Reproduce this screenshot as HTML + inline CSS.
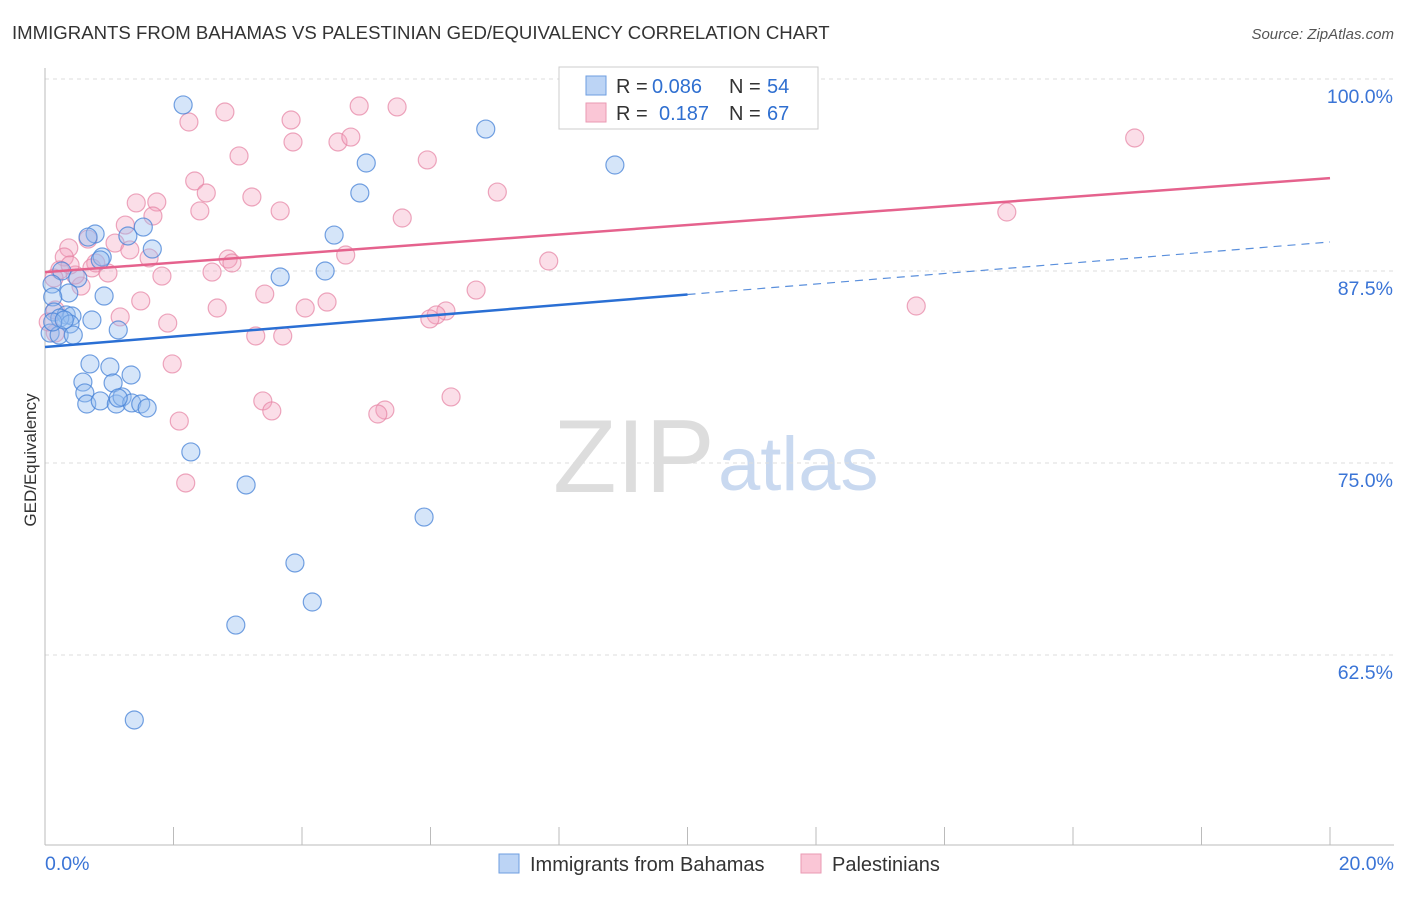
<!DOCTYPE html>
<html><head><meta charset="utf-8"><style>
body{margin:0;background:#fff;font-family:"Liberation Sans",sans-serif}
svg text{font-family:"Liberation Sans",sans-serif}
</style></head><body>
<svg id="chart" width="1406" height="892">
<text x="12" y="39" font-size="18.6" fill="#333">IMMIGRANTS FROM BAHAMAS VS PALESTINIAN GED/EQUIVALENCY CORRELATION CHART</text>
<text x="1394" y="39" font-size="15" fill="#555" font-style="italic" text-anchor="end">Source: ZipAtlas.com</text>
<text x="36" y="460" font-size="17" fill="#333" transform="rotate(-90 36 460)" text-anchor="middle">GED/Equivalency</text>
<g>
<text x="553" y="492" font-size="104" fill="#ddd" font-family="Liberation Serif,serif">ZIP</text>
<text x="718" y="490" font-size="76" fill="#c9d9f0">atlas</text>
</g>
<g id="grid"></g><g id="axes"></g><g id="pts"></g><g id="lines"></g>
<g>
<rect x="559" y="67" width="259" height="62" fill="#fff" stroke="#ccc"/>
<rect x="586" y="76" width="20" height="19" fill="#bcd4f5" stroke="#6e9ee0"/>
<rect x="586" y="103" width="20" height="19" fill="#fac6d6" stroke="#ea9ab3"/>
<g font-size="20">
<text x="616" y="93" fill="#333">R =</text><text x="652" y="93" fill="#2f6fd0">0.086</text>
<text x="729" y="93" fill="#333">N =</text><text x="767" y="93" fill="#2f6fd0">54</text></g>
<g font-size="20">
<text x="616" y="120" fill="#333">R =</text><text x="659" y="120" fill="#2f6fd0">0.187</text>
<text x="729" y="120" fill="#333">N =</text><text x="767" y="120" fill="#2f6fd0">67</text></g>
</g>
<g>
<rect x="499" y="854" width="20" height="19" fill="#bcd4f5" stroke="#6e9ee0"/>
<text x="530" y="871" font-size="20" fill="#333">Immigrants from Bahamas</text>
<rect x="801" y="854" width="20" height="19" fill="#fac6d6" stroke="#ea9ab3"/>
<text x="832" y="871" font-size="20" fill="#333">Palestinians</text>
</g>
</svg>
<script>
const blueX=[2.15,6.86,8.87,5.00,4.90,4.50,1.53,0.78,0.67,1.29,1.67,0.89,3.66,4.36,0.26,0.51,0.11,0.37,0.92,0.12,0.14,0.33,0.42,0.23,0.73,0.39,0.08,0.22,0.44,1.14,0.70,1.01,1.34,0.59,1.06,0.62,0.65,0.86,1.11,1.20,1.35,1.49,1.59,2.27,3.13,5.90,3.89,4.16,2.97,1.39,0.12,1.14,0.30,0.86];
const blueY=[98.31,96.74,94.40,94.53,92.58,89.84,90.36,89.91,89.71,89.78,88.93,88.41,87.11,87.50,87.50,87.04,86.65,86.07,85.87,85.81,84.83,84.64,84.57,84.44,84.31,84.05,83.46,83.33,83.33,83.66,81.45,81.25,80.73,80.27,80.21,79.56,78.84,79.04,78.84,79.30,78.91,78.84,78.58,75.72,73.57,71.48,68.49,65.95,64.45,58.27,84.18,79.23,84.31,88.22];
const pinkX=[11.80,16.96,2.80,2.24,3.83,4.89,5.48,3.86,4.56,4.76,3.02,5.95,2.33,2.51,3.22,7.04,1.42,1.74,2.41,3.66,5.56,1.68,1.25,14.97,0.67,1.09,0.37,1.32,0.30,1.62,2.85,2.91,4.68,7.84,0.79,0.73,0.23,0.98,1.82,2.60,0.14,0.56,6.71,3.42,1.49,4.39,2.68,4.05,13.56,6.24,6.09,5.99,1.17,1.91,3.28,3.70,0.16,1.98,3.39,6.32,3.53,5.29,5.18,2.09,2.19,0.05,0.16,0.47,0.39];
const pinkY=[99.93,96.16,97.85,97.20,97.33,98.24,98.18,95.90,95.90,96.22,94.99,94.73,93.36,92.58,92.32,92.64,91.93,91.99,91.41,91.41,90.95,91.08,90.49,91.34,89.58,89.32,89.00,88.87,88.41,88.35,88.28,88.02,88.54,88.15,88.02,87.70,87.57,87.37,87.17,87.43,87.04,86.52,86.26,86.00,85.55,85.48,85.09,85.09,85.22,84.90,84.64,84.38,84.51,84.11,83.27,83.27,83.46,81.45,79.04,79.30,78.39,78.45,78.19,77.73,73.70,84.18,84.96,87.24,87.89];
const blueTrend=[82.55,89.39];
const pinkTrend=[87.43,93.55];
const yTicks=[100,87.5,75,62.5];
const yTickLabels=["100.0%","87.5%","75.0%","62.5%"];
const xTicks=[0,2,4,6,8,10,12,14,16,18,20];
const NS="http://www.w3.org/2000/svg";
const sx=v=>45+v*64.25, sy=v=>79+(100-v)*15.36;
function mk(tag,attrs,parent){const e=document.createElementNS(NS,tag);for(const k in attrs)e.setAttribute(k,attrs[k]);document.getElementById(parent).appendChild(e);return e;}
yTicks.forEach((t,i)=>{
 const g=mk('line',{x1:45,x2:1394,y1:sy(t),y2:sy(t),stroke:'#ddd','stroke-dasharray':'4,4'},'grid');
 
 
 const l=mk('text',{x:1393,y:sy(t)+24,'font-size':19.5,fill:'#3a74d6','text-anchor':'end'},'grid');
 l.textContent=yTickLabels[i];
 
 
});
const ax=mk('line',{x1:45,x2:45,y1:68,y2:845,stroke:'#bbb'},'axes');


const bx=mk('line',{x1:45,x2:1394,y1:845,y2:845,stroke:'#bbb'},'axes');


xTicks.forEach(t=>{
 const k=mk('line',{x1:sx(t),x2:sx(t),y1:827,y2:845,stroke:'#bbb'},'axes');
 
 
});
const xl0=mk('text',{x:45,y:870,'font-size':19.5,fill:'#3a74d6'},'axes');xl0.textContent=xTicks[0].toFixed(1)+'%';


const xl1=mk('text',{x:1394,y:870,'font-size':19.5,fill:'#3a74d6','text-anchor':'end'},'axes');xl1.textContent=xTicks[xTicks.length-1].toFixed(1)+'%';


pinkX.forEach((x,i)=>{
 const c=mk('circle',{cx:sx(x),cy:sy(pinkY[i]),r:9,fill:'rgba(244,160,188,0.35)',stroke:'rgba(230,130,162,0.7)','stroke-width':1.2},'pts');
 
 
});
blueX.forEach((x,i)=>{
 const c=mk('circle',{cx:sx(x),cy:sy(blueY[i]),r:9,fill:'rgba(150,190,240,0.4)',stroke:'rgba(70,130,215,0.75)','stroke-width':1.2},'pts');
 
 
});
const bm=blueTrend[0]+(blueTrend[1]-blueTrend[0])/2;
const b1=mk('line',{x1:sx(0),y1:sy(blueTrend[0]),x2:sx(10),y2:sy(bm),stroke:'#2a6fd4','stroke-width':2.5},'lines');


const b2=mk('line',{x1:sx(10),y1:sy(bm),x2:sx(20),y2:sy(blueTrend[1]),stroke:'#5a8fdc','stroke-width':1.2,'stroke-dasharray':'8,6'},'lines');


const p1=mk('line',{x1:sx(0),y1:sy(pinkTrend[0]),x2:sx(20),y2:sy(pinkTrend[1]),stroke:'#e5628d','stroke-width':2.5},'lines');


</script>
</body></html>
